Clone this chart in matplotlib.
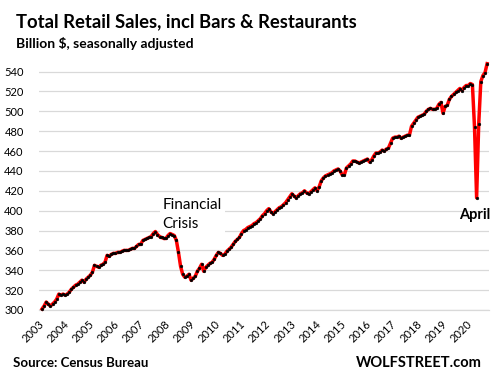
import matplotlib
matplotlib.use("Agg")
import matplotlib.pyplot as plt
import matplotlib.transforms as mtransforms
import numpy as np

# Monthly retail sales, billion $, Jan 2003 .. Sep 2020
sales_2003 = [301, 304, 308, 306, 304, 306, 308, 311, 316, 315, 316, 315]
sales_2004 = [316, 318, 321, 323, 325, 326, 328, 330, 328, 331, 333, 335]
sales_2005 = [338, 345, 344, 343, 345, 346, 348, 355, 354, 356, 357, 357]
sales_2006 = [358, 358, 359, 360, 360, 360, 361, 362, 362, 364, 366, 366]
sales_2007 = [370, 371, 372, 373, 374, 377, 379, 376, 374, 373, 372, 372]
sales_2008 = [375, 377, 376, 375, 370, 358, 344, 336, 333, 334, 336, 330]
sales_2009 = [332, 334, 339, 342, 346, 339, 343, 345, 347, 348, 351, 355]
sales_2010 = [358, 357, 355, 356, 359, 361, 363, 366, 369, 371, 373, 377]
sales_2011 = [380, 381, 383, 384, 385, 387, 388, 390, 392, 395, 397, 400]
sales_2012 = [402, 399, 397, 399, 401, 403, 404, 406, 408, 411, 414, 417]
sales_2013 = [415, 413, 415, 417, 418, 420, 418, 417, 419, 421, 423, 420]
sales_2014 = [424, 430, 433, 435, 436, 437, 438, 440, 441, 442, 440, 436]
sales_2015 = [436, 443, 445, 447, 450, 450, 449, 448, 449, 450, 451, 452]
sales_2016 = [449, 451, 455, 458, 458, 459, 461, 460, 462, 463, 468, 473]
sales_2017 = [474, 474, 475, 473, 474, 475, 476, 476, 485, 488, 491, 494]
sales_2018 = [495, 496, 497, 500, 502, 503, 502, 502, 503, 507, 509, 498]
sales_2019 = [505, 506, 512, 515, 517, 519, 521, 523, 521, 524, 526, 526]
sales_2020 = [528, 527, 484, 413, 487, 530, 536, 539, 548]

years = list(range(2003, 2021))
year_labels = [str(y) for y in years]
y_ticks = list(range(300, 541, 20))

sales = (sales_2003 + sales_2004 + sales_2005 + sales_2006 + sales_2007 +
         sales_2008 + sales_2009 + sales_2010 + sales_2011 + sales_2012 +
         sales_2013 + sales_2014 + sales_2015 + sales_2016 + sales_2017 +
         sales_2018 + sales_2019 + sales_2020)
months = np.arange(len(sales))

FONT = ["Lato", "DejaVu Sans"]
plt.rcParams["font.family"] = FONT

W, H = 494, 377
fig = plt.figure(figsize=(W / 100, H / 100), dpi=100)
fig.patch.set_facecolor("white")
ax = fig.add_axes([39 / W, 67 / H, 450 / W, 248.3 / H])

ax.plot(months, sales, color="#ff0000", lw=2.5, zorder=3, clip_on=False,
        solid_joinstyle="round")
ax.plot(months, sales, ls="none", marker="o", ms=2.0, color="black",
        mec="black", mew=0.3, zorder=4, clip_on=False)

ax.set_xlim(-1.43, 212.9)
ax.set_ylim(300, 550)
ax.set_yticks(y_ticks)
ax.set_yticklabels([str(v) for v in y_ticks])
ax.yaxis.grid(True, color="#d9d9d9", lw=0.9)
ax.set_axisbelow(True)
for s in ["top", "right", "left"]:
    ax.spines[s].set_visible(False)
ax.spines["bottom"].set_color("#d9d9d9")
ax.spines["bottom"].set_linewidth(0.9)
ax.tick_params(axis="y", length=0, pad=11, labelsize=8)

ax.set_xticks([12 * i for i in range(len(years))])
ax.set_xticklabels(year_labels, rotation=45, ha="right", va="top",
                   rotation_mode="anchor", fontsize=8)
ax.tick_params(axis="x", length=0, pad=6)
off = mtransforms.ScaledTranslation(-4 / 100, 0, fig.dpi_scale_trans)
for lab in ax.get_xticklabels():
    lab.set_transform(lab.get_transform() + off)

# Annotations
ax.text(57.5, 413, "Financial\nCrisis", ha="left", va="top", fontsize=11,
        linespacing=1.5, zorder=2,
        bbox=dict(facecolor="white", edgecolor="none", pad=2))
ax.text(198.7, 392, "April", ha="left", va="baseline", fontsize=10.5,
        fontweight="bold", zorder=5)

# Titles & footer
fig.text(16 / W, 1 - 27 / H, "Total Retail Sales, incl Bars & Restaurants",
         ha="left", va="baseline", fontsize=13.3, fontweight="bold")
fig.text(16 / W, 1 - 48 / H, "Billion $, seasonally adjusted",
         ha="left", va="baseline", fontsize=10, fontweight="bold")
fig.text(13 / W, 1 - 367 / H, "Source: Census Bureau",
         ha="left", va="baseline", fontsize=9.5, fontweight="bold")
fig.text(482 / W, 1 - 367 / H, "WOLFSTREET.com",
         ha="right", va="baseline", fontsize=10.5, fontweight="bold")

fig.savefig("out.png", dpi=100, facecolor="white")
